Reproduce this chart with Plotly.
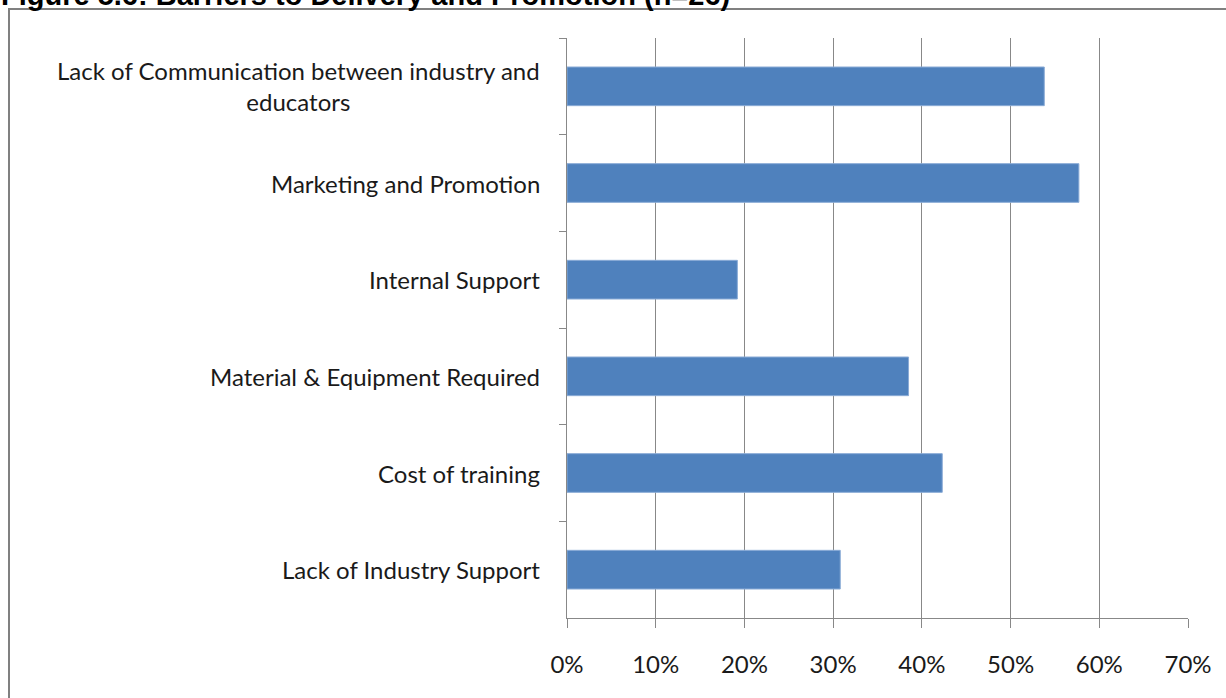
import plotly.graph_objects as go

# Barriers listed top to bottom, with share of respondents (n=26)
categories = [
    "Lack of Communication between industry and<br>educators",
    "Marketing and Promotion",
    "Internal Support",
    "Material & Equipment Required",
    "Cost of training",
    "Lack of Industry Support",
]
shares = [0.538, 0.577, 0.192, 0.385, 0.423, 0.308]
x_ticks = [0, 0.1, 0.2, 0.3, 0.4, 0.5, 0.6, 0.7]
x_tick_labels = ["0%", "10%", "20%", "30%", "40%", "50%", "60%", "70%"]
title_text = "Figure 5.6: Barriers to Delivery and Promotion (n=26)"

W, H = 1226, 698
ML, MR, MT, MB = 567, 38, 38, 80
pw, ph = W - ML - MR, H - MT - MB

def px_to_paper_x(px):
    return (px - ML) / pw

def px_to_paper_y(py):
    return 1 - (py - MT) / ph

grid_col = "#888888"
label_font = dict(family="Lato, Open Sans, sans-serif", size=24, color="#1a1a1a")

fig = go.Figure(
    go.Bar(
        x=shares,
        y=categories,
        orientation="h",
        marker=dict(color="#4f81bd", line=dict(color="#8aabd6", width=1)),
        hoverinfo="skip",
    )
)

# Category labels, drawn as centred multi-line text at each category
annotations = []
for cat in categories:
    annotations.append(dict(
        x=px_to_paper_x(542), xref="paper", y=cat, yref="y",
        text=cat, showarrow=False, xanchor="right", yanchor="middle",
        align="center", font=label_font,
    ))

annotations.append(dict(
    x=px_to_paper_x(-1), xref="paper", y=px_to_paper_y(-5), yref="paper",
    text="<b>" + title_text + "</b>", showarrow=False,
    xanchor="left", yanchor="middle",
    font=dict(family="Liberation Sans, Arial, sans-serif", size=29, color="#000000"),
))

fig.update_layout(
    width=W, height=H,
    margin=dict(l=ML, r=MR, t=MT, b=MB, pad=0),
    paper_bgcolor="white", plot_bgcolor="white",
    bargap=0.6,
    showlegend=False,
    annotations=annotations,
    shapes=[dict(
        type="rect", xref="paper", yref="paper",
        x0=px_to_paper_x(9), x1=px_to_paper_x(W + 20),
        y0=px_to_paper_y(H + 20), y1=px_to_paper_y(9),
        line=dict(color="#808080", width=2), fillcolor="rgba(0,0,0,0)",
        layer="below",
    )],
    xaxis=dict(
        range=[0, 0.7],
        tickvals=x_ticks, ticktext=x_tick_labels,
        showgrid=True, gridcolor=grid_col, gridwidth=1,
        showline=True, linecolor=grid_col, linewidth=1,
        ticks="outside", ticklen=9, tickcolor=grid_col, tickwidth=1,
        ticklabelstandoff=16,
        tickfont=label_font,
        zeroline=False,
        fixedrange=True,
    ),
    yaxis=dict(
        categoryorder="array", categoryarray=categories,
        autorange="reversed",
        tickson="boundaries",
        ticks="outside", ticklen=7, tickcolor=grid_col, tickwidth=1,
        showticklabels=False,
        showgrid=False,
        showline=True, linecolor=grid_col, linewidth=1,
        zeroline=False,
        fixedrange=True,
    ),
)

fig.write_html("out.html", config={"displayModeBar": False})
